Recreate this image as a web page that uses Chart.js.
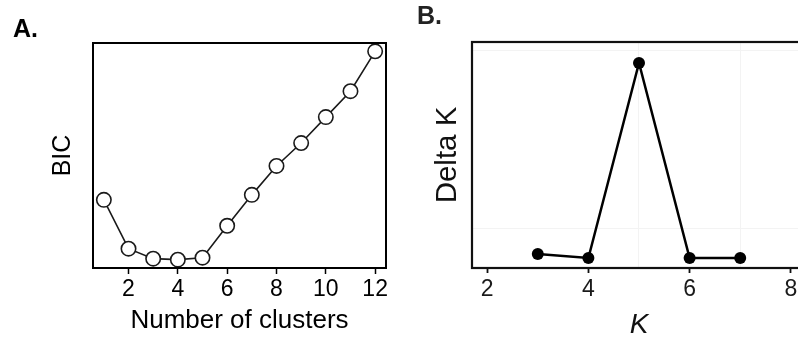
<!DOCTYPE html>
<html>
<head>
<meta charset="utf-8">
<script src="https://cdn.jsdelivr.net/npm/chart.js@4/dist/chart.umd.min.js"></script>
<style>
  html, body { margin: 0; padding: 0; background: #fff; overflow: hidden; }
  #wrap { position: relative; width: 798px; height: 339px; overflow: hidden; background: #fff; }
  .panel { position: absolute; top: 0; height: 339px; }
  #pa { left: 0; width: 400px; }
  #pb { left: 400px; width: 420px; }
  .tag { position: absolute; font: bold 25px "Liberation Sans", Arial, sans-serif; line-height: 25px; white-space: nowrap; }
</style>
</head>
<body>
<div id="wrap">
  <div class="panel" id="pa"><canvas id="chartA" width="400" height="339"></canvas></div>
  <div class="panel" id="pb"><canvas id="chartB" width="420" height="339"></canvas></div>
  <div class="tag" style="left:13px; top:16px; color:#000;">A.</div>
  <div class="tag" style="left:417px; top:3px; color:#222;">B.</div>
</div>
<script>
// Panel A: BIC by number of clusters
const clusters = [1, 2, 3, 4, 5, 6, 7, 8, 9, 10, 11, 12];
const bic = [60, 11, 1, 0, 2, 34, 65, 94, 117, 143, 169, 209];
const clusterTicks = [2, 4, 6, 8, 10, 12];

// Panel B: Delta K by K
const kValues = [3, 4, 5, 6, 7];
const deltaK = [14, 10, 205, 10, 10];
const kTicks = [2, 4, 6, 8];
const kMinorGrid = [5, 7];
const deltaKGrid = [40, 217];

const FONT = '"Liberation Sans", Arial, Helvetica, sans-serif';

// Closed box around the plotting region
const frame = {
  id: 'frame',
  afterDraw(chart, args, opts) {
    const { ctx, chartArea: a } = chart;
    ctx.save();
    ctx.strokeStyle = opts.color || '#000';
    ctx.lineWidth = opts.width || 2;
    ctx.strokeRect(a.left, a.top, a.right - a.left, a.bottom - a.top);
    ctx.restore();
  }
};

function padRange(vals, frac) {
  const lo = Math.min(...vals), hi = Math.max(...vals);
  const d = (hi - lo) * frac;
  return [lo - d, hi + d];
}

const [axMin, axMax] = padRange(clusters, 0.04);
const [ayMin, ayMax] = padRange(bic, 0.04);

new Chart(document.getElementById('chartA'), {
  type: 'line',
  data: {
    datasets: [{
      data: clusters.map((c, i) => ({ x: c, y: bic[i] })),
      borderColor: '#1a1a1a',
      borderWidth: 1.6,
      pointStyle: 'circle',
      pointRadius: 7.2,
      pointBorderWidth: 1.6,
      pointBorderColor: '#1a1a1a',
      pointBackgroundColor: '#fff',
      tension: 0
    }]
  },
  options: {
    responsive: false,
    animation: false,
    layout: { padding: { top: 43, right: 14, bottom: 0, left: 0 } },
    plugins: { legend: { display: false }, tooltip: { enabled: false }, frame: { color: '#000', width: 2 } },
    scales: {
      x: {
        type: 'linear',
        min: axMin,
        max: axMax,
        afterBuildTicks: s => { s.ticks = clusterTicks.map(v => ({ value: v })); },
        afterFit: s => { s.height = 71; },
        border: { display: false },
        grid: { display: true, drawOnChartArea: false, drawTicks: true, tickLength: 6, tickWidth: 1.5, tickColor: '#000' },
        ticks: { color: '#000', padding: 4, font: { family: FONT, size: 23, lineHeight: 1 }, maxRotation: 0, autoSkip: false },
        title: { display: true, text: 'Number of clusters', color: '#000', font: { family: FONT, size: 26, lineHeight: 1 }, padding: { top: 0, bottom: 5 } }
      },
      y: {
        type: 'linear',
        min: ayMin,
        max: ayMax,
        afterFit: s => { s.width = 93; },
        border: { display: false },
        grid: { display: false },
        ticks: { display: false },
        title: { display: true, text: 'BIC', color: '#000', font: { family: FONT, size: 25, lineHeight: 1 }, padding: { top: 51, bottom: 0 } }
      }
    }
  },
  plugins: [frame]
});

const xTicksB = [...new Set([...kTicks, ...kMinorGrid])].sort((a, b) => a - b);

new Chart(document.getElementById('chartB'), {
  type: 'line',
  data: {
    datasets: [{
      data: kValues.map((k, i) => ({ x: k, y: deltaK[i] })),
      borderColor: '#000',
      borderWidth: 2.5,
      pointStyle: 'circle',
      pointRadius: 6,
      pointBorderWidth: 0,
      pointBackgroundColor: '#000',
      tension: 0
    }]
  },
  options: {
    responsive: false,
    animation: false,
    layout: { padding: { top: 42, right: 14, bottom: 0, left: 0 } },
    plugins: { legend: { display: false }, tooltip: { enabled: false }, frame: { color: '#111', width: 2.2 } },
    scales: {
      x: {
        type: 'linear',
        min: 1.7,
        max: 8.3,
        afterBuildTicks: s => { s.ticks = xTicksB.map(v => ({ value: v })); },
        afterFit: s => { s.height = 71; },
        border: { display: false },
        grid: {
          display: true,
          drawOnChartArea: true,
          drawTicks: true,
          tickLength: 5,
          tickWidth: 1.8,
          lineWidth: 1,
          color: c => (c.tick && kMinorGrid.includes(c.tick.value)) ? '#f3f3f3' : 'rgba(0,0,0,0)',
          tickColor: c => (c.tick && kTicks.includes(c.tick.value)) ? '#111' : 'rgba(0,0,0,0)'
        },
        ticks: {
          color: '#1a1a1a', padding: 5, autoSkip: false, maxRotation: 0,
          font: { family: FONT, size: 23, lineHeight: 1 },
          callback: v => kTicks.includes(v) ? String(v) : ''
        },
        title: { display: true, text: 'K', color: '#111', font: { family: FONT, size: 28, style: 'italic', lineHeight: 1 }, padding: { top: 0, bottom: 0 } }
      },
      y: {
        type: 'linear',
        min: 0,
        max: 226,
        afterBuildTicks: s => { s.ticks = deltaKGrid.map(v => ({ value: v })); },
        afterFit: s => { s.width = 72; },
        border: { display: false },
        grid: { display: true, drawOnChartArea: true, drawTicks: false, color: '#f3f3f3', lineWidth: 1 },
        ticks: { display: false },
        title: { display: true, text: 'Delta K', color: '#111', font: { family: FONT, size: 29.5, lineHeight: 1 }, padding: { top: 33, bottom: 0 } }
      }
    }
  },
  plugins: [frame]
});
</script>
</body>
</html>
